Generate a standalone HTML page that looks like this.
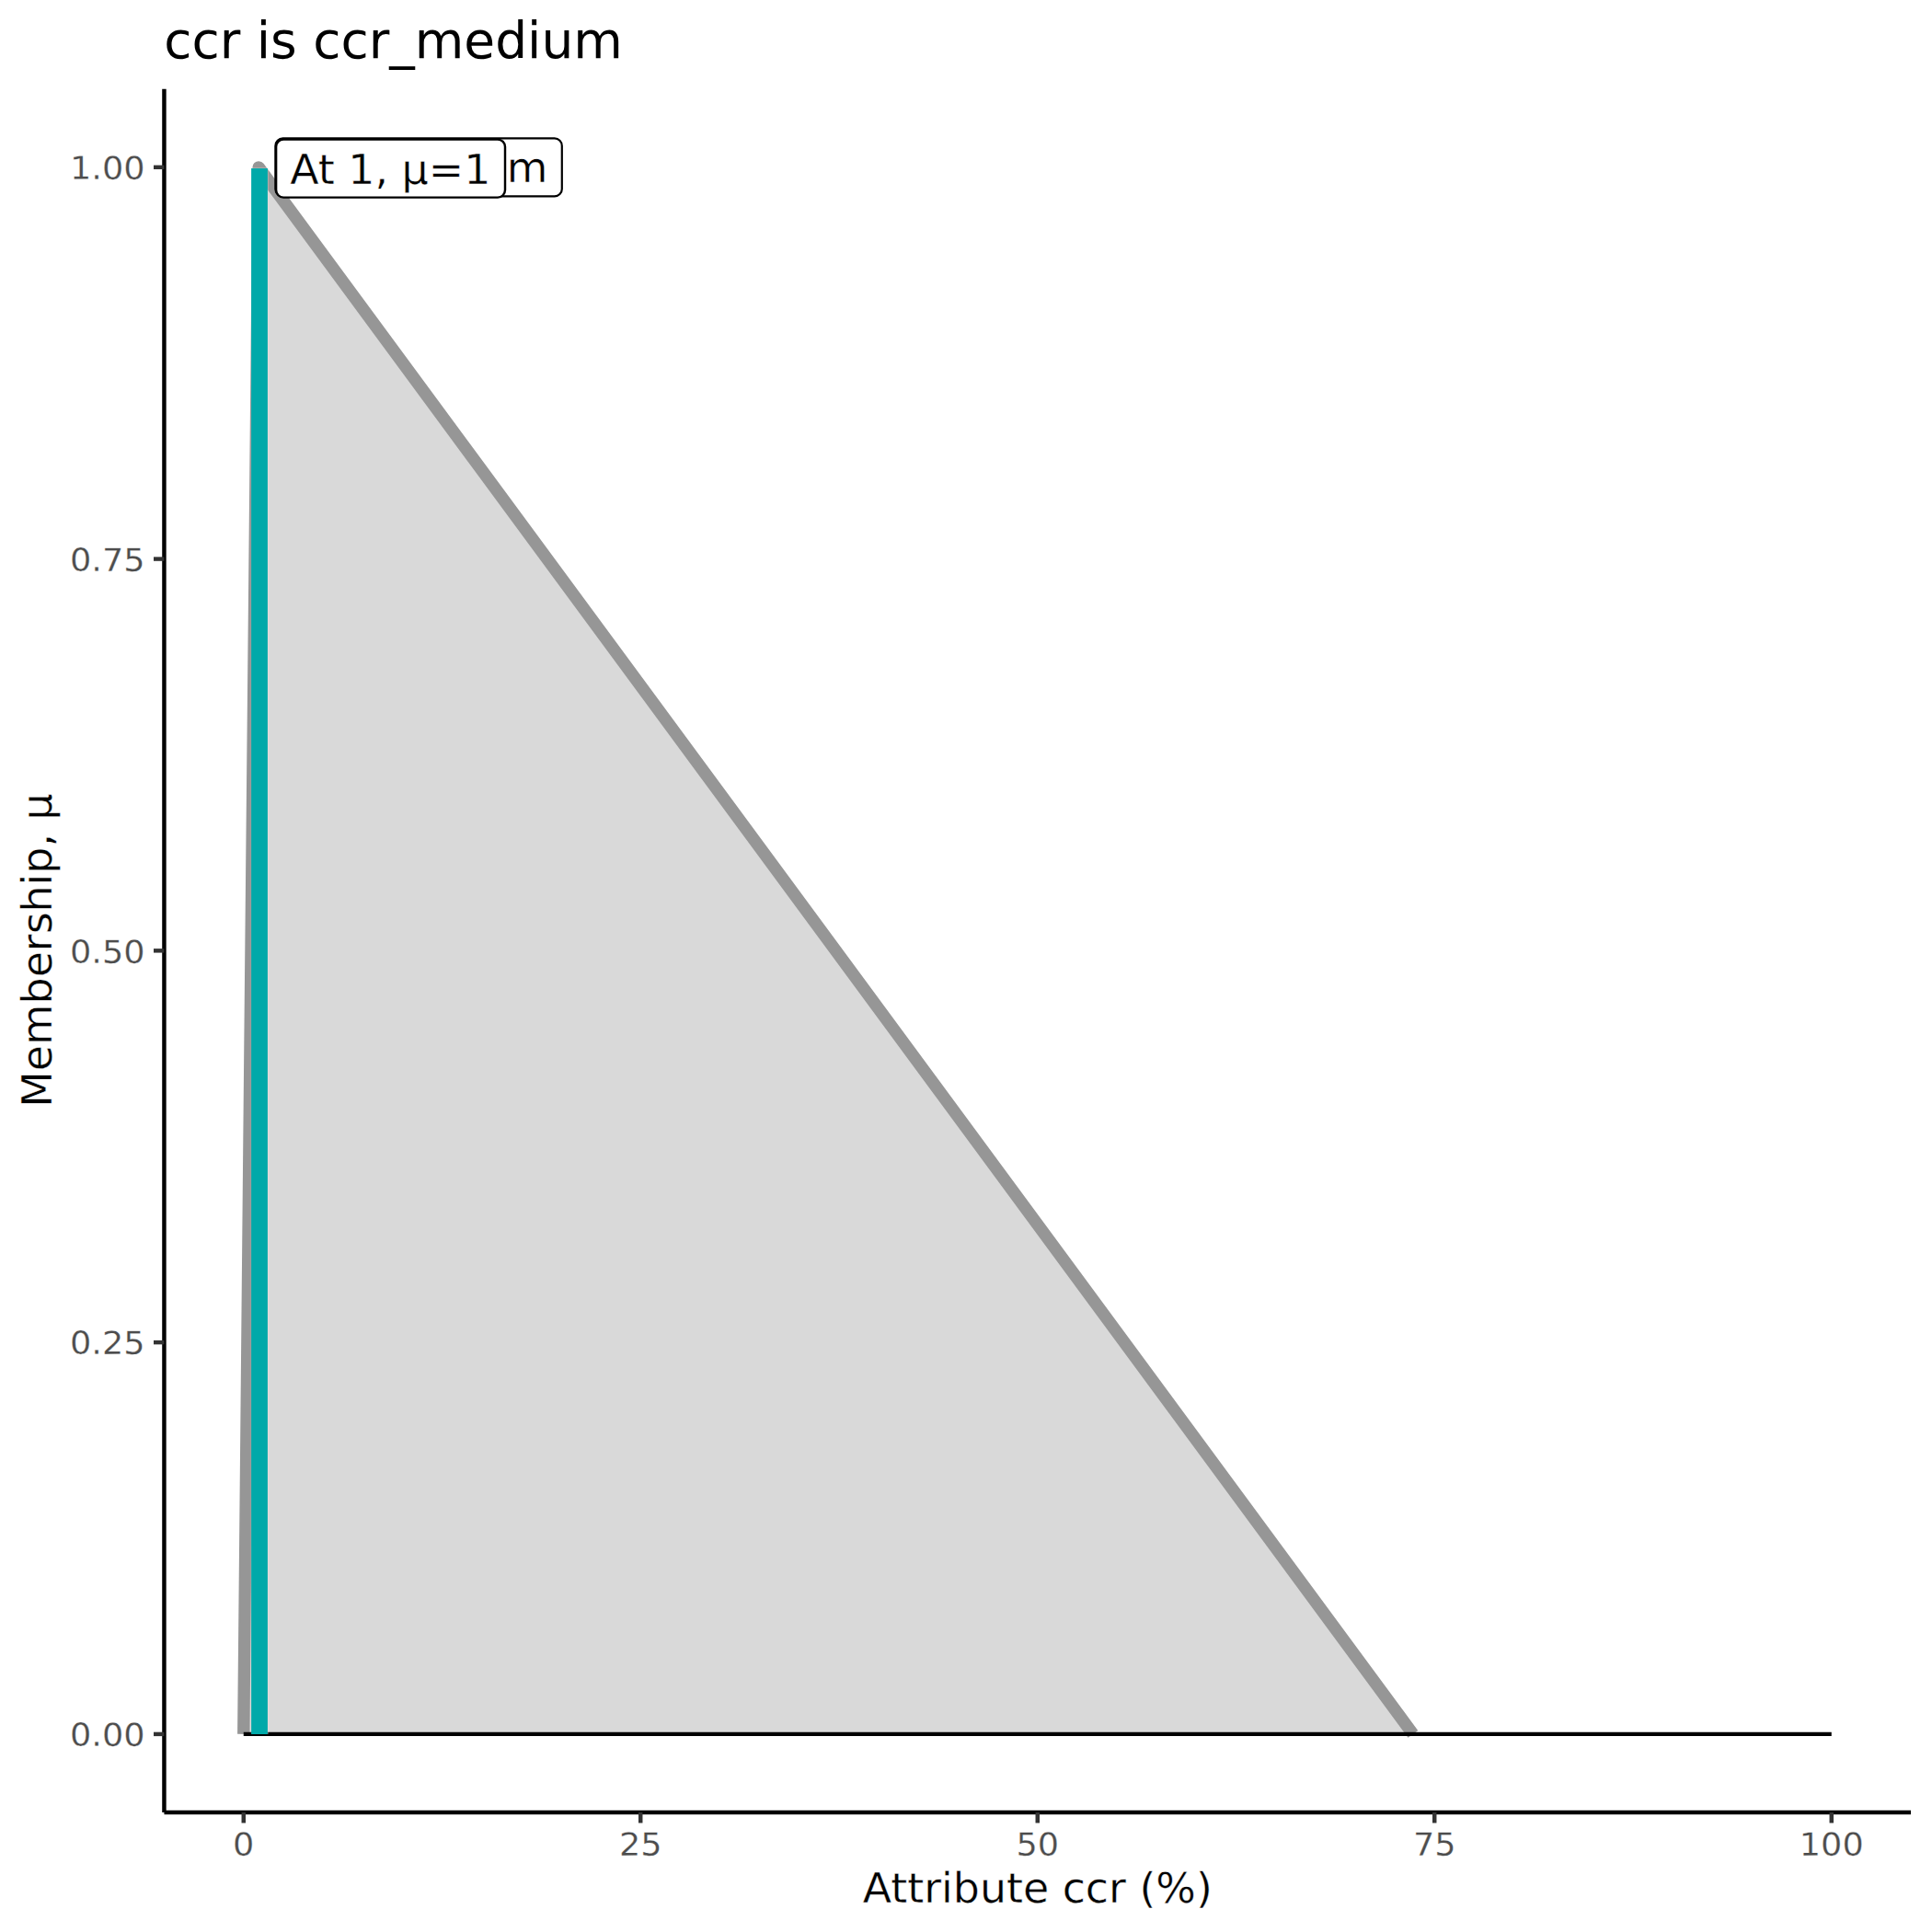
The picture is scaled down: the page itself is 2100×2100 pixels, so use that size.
<!DOCTYPE html>
<html><head><meta charset="utf-8"><title>ccr is ccr_medium</title>
<style>
html,body{margin:0;padding:0;background:#fff;}
body{width:2100px;height:2100px;overflow:hidden;}
svg{display:block;}
text{font-family:"DejaVu Sans","Liberation Sans",sans-serif;}
.at,.lb{stroke:#fff;stroke-width:0.4px;paint-order:fill stroke;}
.tk{stroke:#fff;stroke-width:0.25px;paint-order:fill stroke;}
.tk{font-size:36.67px;fill:#4d4d4d;text-rendering:geometricPrecision;}
.at{font-size:45.83px;fill:#000;text-rendering:geometricPrecision;}
.ti{font-size:55px;fill:#000;}
.lb{font-size:45.83px;fill:#000;text-rendering:geometricPrecision;}
</style></head><body>
<svg width="2100" height="2100" viewBox="0 0 2100 2100">
<rect width="2100" height="2100" fill="#fff"/>
<polygon points="264.75,1884.90 281.15,181.80 1535.85,1884.90" fill="#d9d9d9"/>
<polyline points="264.75,1884.90 281.15,181.80 1535.85,1884.90" fill="none" stroke="#969696" stroke-width="13.34" stroke-linejoin="round" stroke-linecap="butt"/>
<line x1="264.75" y1="1884.90" x2="1990.75" y2="1884.90" stroke="#000" stroke-width="4.1"/>
<line x1="282.41" y1="1884.90" x2="282.41" y2="181.90" stroke="#fadcda" stroke-opacity="0.27" stroke-width="19.4"/>
<line x1="282.01" y1="1884.90" x2="282.01" y2="183.00" stroke="#00a9a9" stroke-width="17.78"/>
<rect x="299.4" y="150.4" width="311.4" height="63" rx="8" ry="8" fill="#fff" stroke="#000" stroke-width="2.2"/>
<text class="lb" transform="matrix(1,0.0002,0,0.988,315,198.3)">ccr_medium</text>
<rect x="300.1" y="151.6" width="248.9" height="63" rx="8" ry="8" fill="#fff" stroke="#000" stroke-width="2.45"/>
<text class="lb" transform="matrix(1,0.0002,0,0.988,315.2,199.9)">At 1, μ=1</text>
<line x1="178.45" y1="96.65" x2="178.45" y2="1970.05" stroke="#000" stroke-width="4.45"/>
<line x1="178.45" y1="1970.05" x2="2077.05" y2="1970.05" stroke="#000" stroke-width="4.45"/>
<line x1="166.99" y1="1884.90" x2="178.45" y2="1884.90" stroke="#333" stroke-width="4.45"/>
<text class="tk" transform="matrix(1,0.0005,0,0.938,157.6,1897.65)" text-anchor="end">0.00</text>
<line x1="166.99" y1="1459.12" x2="178.45" y2="1459.12" stroke="#333" stroke-width="4.45"/>
<text class="tk" transform="matrix(1,0.0005,0,0.938,157.6,1471.65)" text-anchor="end">0.25</text>
<line x1="166.99" y1="1033.35" x2="178.45" y2="1033.35" stroke="#333" stroke-width="4.45"/>
<text class="tk" transform="matrix(1,0.0005,0,0.938,157.6,1046.65)" text-anchor="end">0.50</text>
<line x1="166.99" y1="607.58" x2="178.45" y2="607.58" stroke="#333" stroke-width="4.45"/>
<text class="tk" transform="matrix(1,0.0005,0,0.938,157.6,620.65)" text-anchor="end">0.75</text>
<line x1="166.99" y1="181.80" x2="178.45" y2="181.80" stroke="#333" stroke-width="4.45"/>
<text class="tk" transform="matrix(1,0.0005,0,0.938,157.6,194.65)" text-anchor="end">1.00</text>
<line x1="264.75" y1="1970.05" x2="264.75" y2="1981.51" stroke="#333" stroke-width="4.45"/>
<text class="tk" transform="matrix(1,0.0005,0,0.938,264.75,2016.65)" text-anchor="middle">0</text>
<line x1="696.25" y1="1970.05" x2="696.25" y2="1981.51" stroke="#333" stroke-width="4.45"/>
<text class="tk" transform="matrix(1,0.0005,0,0.938,696.25,2016.65)" text-anchor="middle">25</text>
<line x1="1127.75" y1="1970.05" x2="1127.75" y2="1981.51" stroke="#333" stroke-width="4.45"/>
<text class="tk" transform="matrix(1,0.0005,0,0.938,1127.75,2016.65)" text-anchor="middle">50</text>
<line x1="1559.25" y1="1970.05" x2="1559.25" y2="1981.51" stroke="#333" stroke-width="4.45"/>
<text class="tk" transform="matrix(1,0.0005,0,0.938,1559.25,2016.65)" text-anchor="middle">75</text>
<line x1="1990.75" y1="1970.05" x2="1990.75" y2="1981.51" stroke="#333" stroke-width="4.45"/>
<text class="tk" transform="matrix(1,0.0005,0,0.938,1990.75,2016.65)" text-anchor="middle">100</text>
<text class="at" transform="matrix(1,0.0002,0,0.988,1127.75,2068)" text-anchor="middle">Attribute ccr (%)</text>
<text class="at" transform="translate(56.2,1033.05) rotate(-90) scale(1,0.988)" text-anchor="middle">Membership, μ</text>
<text class="ti" x="178.2" y="63">ccr is ccr_medium</text>
</svg></body></html>
